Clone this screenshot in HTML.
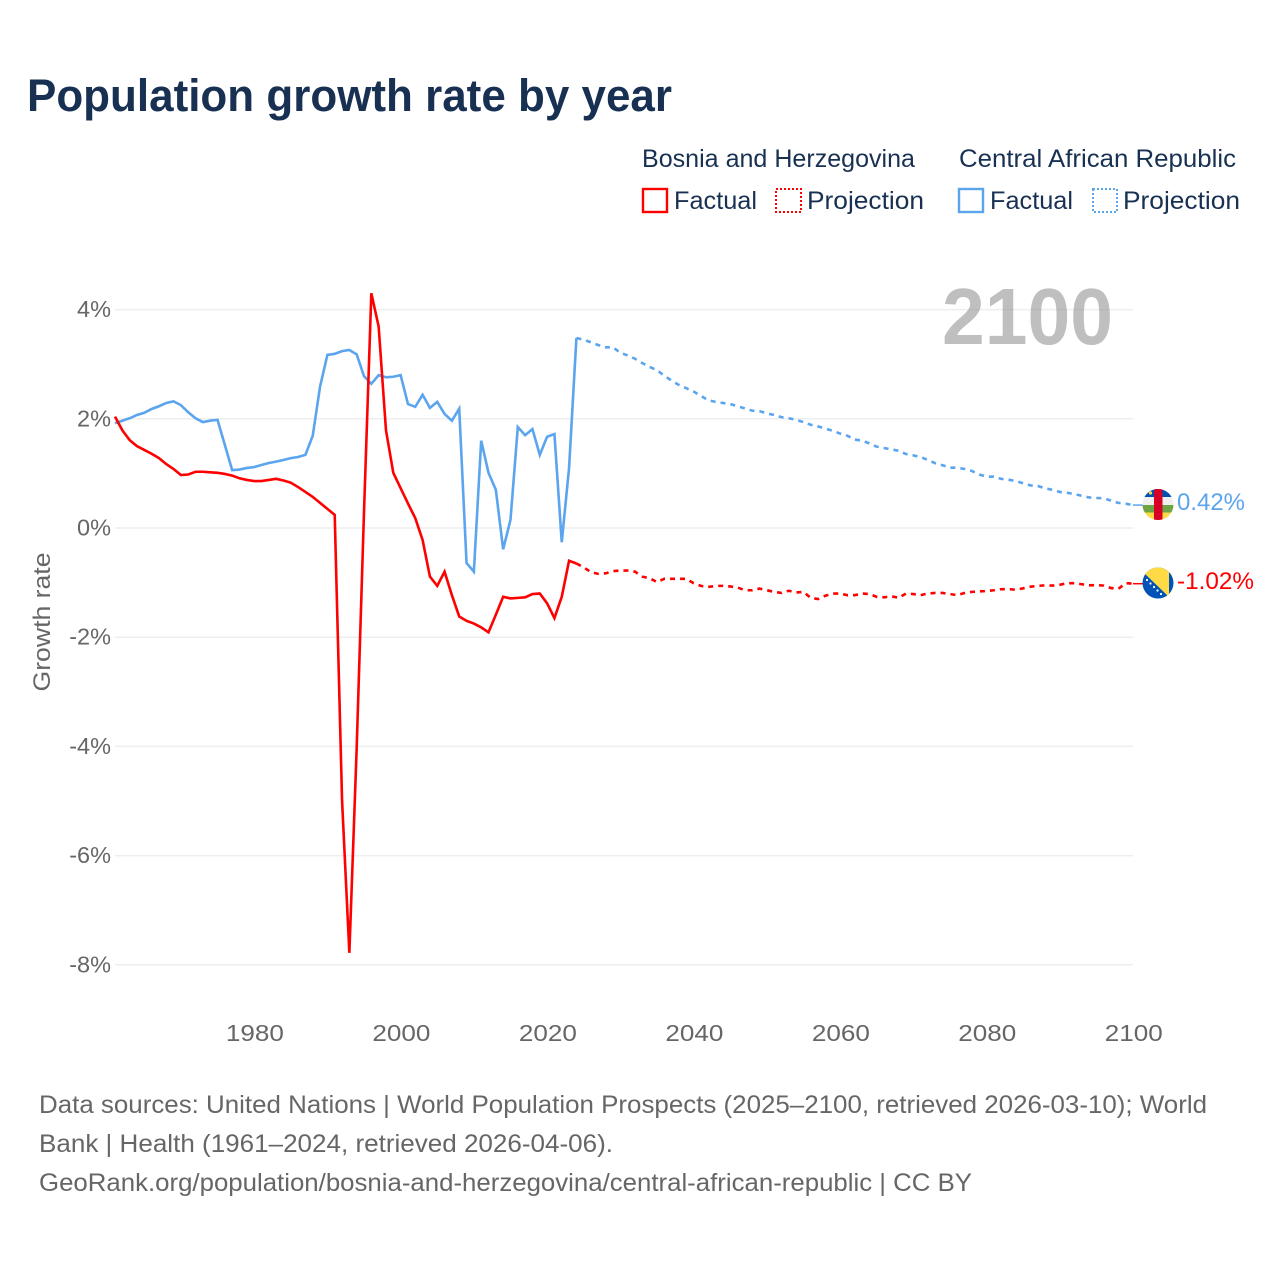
<!DOCTYPE html>
<html lang="en">
<head>
<meta charset="utf-8">
<title>Population growth rate by year</title>
<style>
  html, body { margin: 0; padding: 0; background: #fff; }
  svg { display: block; font-family: "Liberation Sans", sans-serif; }
</style>
</head>
<body>
<svg id="chart" xmlns="http://www.w3.org/2000/svg" width="1280" height="1280" viewBox="0 0 1280 1280">
  <rect width="1280" height="1280" fill="#ffffff"/>
  <text x="27" y="111" font-size="45" font-weight="700" fill="#183152" textLength="645" lengthAdjust="spacingAndGlyphs">Population growth rate by year</text>

  <g font-size="25" fill="#183152">
    <text x="642" y="167" textLength="273" lengthAdjust="spacingAndGlyphs">Bosnia and Herzegovina</text>
    <text x="959" y="167" textLength="277" lengthAdjust="spacingAndGlyphs">Central African Republic</text>
    <rect x="643" y="189" width="24" height="23" fill="none" stroke="#ff0000" stroke-width="2.4"/>
    <text x="674" y="209" textLength="83" lengthAdjust="spacingAndGlyphs">Factual</text>
    <rect x="776" y="189" width="25" height="23" fill="none" stroke="#ff0000" stroke-width="2" stroke-dasharray="2,2"/>
    <text x="807" y="209" textLength="117" lengthAdjust="spacingAndGlyphs">Projection</text>
    <rect x="959" y="189" width="24" height="23" fill="none" stroke="#5ba4ee" stroke-width="2.4"/>
    <text x="990" y="209" textLength="83" lengthAdjust="spacingAndGlyphs">Factual</text>
    <rect x="1093" y="189" width="24" height="23" fill="none" stroke="#5ba4ee" stroke-width="2" stroke-dasharray="2,2"/>
    <text x="1123" y="209" textLength="117" lengthAdjust="spacingAndGlyphs">Projection</text>
  </g>

  <g id="grid"></g>
  <g id="yticks" font-size="23.5" fill="#666666" text-anchor="end"></g>
  <g id="xticks" font-size="23.5" fill="#666666" text-anchor="middle"></g>
  <text transform="translate(50,622) rotate(-90)" text-anchor="middle" font-size="24" fill="#666666" textLength="139" lengthAdjust="spacingAndGlyphs">Growth rate</text>

  <g id="series"></g>

  <text x="942" y="344" font-size="80" font-weight="700" fill="#7f7f7f" fill-opacity="0.5" textLength="171" lengthAdjust="spacingAndGlyphs">2100</text>

  <defs>
    <clipPath id="clip-car"><circle id="clip-car-c" cx="1158" cy="504.5" r="15.5"/></clipPath>
    <clipPath id="clip-bih"><circle id="clip-bih-c" cx="1158" cy="583" r="15.5"/></clipPath>
  </defs>

  <g clip-path="url(#clip-car)">
    <rect x="1142" y="488" width="32" height="9" fill="#0052b4"/>
    <rect x="1142" y="497" width="32" height="8" fill="#f0f0f0"/>
    <rect x="1142" y="505" width="32" height="7.5" fill="#6da544"/>
    <rect x="1142" y="512.5" width="32" height="9" fill="#ffda44"/>
    <rect x="1154" y="488" width="8.5" height="34" fill="#d80027"/>
    <circle cx="1150.5" cy="493" r="1.6" fill="#ffda44"/>
  </g>
  <g clip-path="url(#clip-bih)">
    <rect x="1142" y="567" width="32" height="32" fill="#0052b4"/>
    <polygon points="1144,573 1150,566 1169,566 1169,597" fill="#ffda44"/>
    <g fill="#ffffff">
      <circle cx="1147" cy="580" r="1.1"/>
      <circle cx="1150.5" cy="583.5" r="1.1"/>
      <circle cx="1154" cy="587" r="1.1"/>
      <circle cx="1157.5" cy="590.5" r="1.1"/>
      <circle cx="1161" cy="594" r="1.1"/>
    </g>
  </g>

  <text id="label-car" x="1177" y="510" font-size="24" fill="#5ba4ee" textLength="68" lengthAdjust="spacingAndGlyphs">0.42%</text>
  <text id="label-bih" x="1177" y="589" font-size="24" fill="#ff0000" textLength="77" lengthAdjust="spacingAndGlyphs">-1.02%</text>

  <g font-size="25" fill="#666666">
    <text x="39" y="1113" textLength="1168" lengthAdjust="spacingAndGlyphs">Data sources: United Nations | World Population Prospects (2025–2100, retrieved 2026-03-10); World</text>
    <text x="39" y="1152" textLength="574" lengthAdjust="spacingAndGlyphs">Bank | Health (1961–2024, retrieved 2026-04-06).</text>
    <text x="39" y="1191" textLength="933" lengthAdjust="spacingAndGlyphs">GeoRank.org/population/bosnia-and-herzegovina/central-african-republic | CC BY</text>
  </g>
</svg>

<script>
const factualStartYear = 1961;
const projectionStartYear = 2024;

const yTickValues = [4, 2, 0, -2, -4, -6, -8];
const yTickLabels = ["4%", "2%", "0%", "-2%", "-4%", "-6%", "-8%"];
const xTickValues = [1980, 2000, 2020, 2040, 2060, 2080, 2100];
const xTickLabels = ["1980", "2000", "2020", "2040", "2060", "2080", "2100"];

const bosniaFactual = [
  2.04, 1.79, 1.61, 1.50, 1.43, 1.36, 1.28, 1.17, 1.08, 0.97,
  0.98, 1.03, 1.03, 1.02, 1.01, 0.99, 0.96, 0.91, 0.88, 0.86,
  0.86, 0.88, 0.90, 0.87, 0.83, 0.75, 0.66, 0.57, 0.46, 0.35,
  0.24, -4.98, -7.78, -4.03, 0.30, 4.30, 3.69, 1.79, 1.01, 0.73,
  0.45, 0.18, -0.22, -0.89, -1.06, -0.80, -1.23, -1.62, -1.70, -1.75,
  -1.82, -1.91, -1.59, -1.26, -1.29, -1.28, -1.27, -1.21, -1.20, -1.38,
  -1.65, -1.26, -0.60, -0.65
];

const carFactual = [
  1.92, 1.965, 2.01, 2.07, 2.11, 2.18, 2.23, 2.29, 2.32, 2.25,
  2.12, 2.01, 1.94, 1.965, 1.98, 1.52, 1.06, 1.07, 1.10, 1.115,
  1.155, 1.19, 1.215, 1.245, 1.28, 1.30, 1.34, 1.69, 2.59, 3.17,
  3.19, 3.24, 3.26, 3.18, 2.78, 2.64, 2.80, 2.76, 2.77, 2.80,
  2.27, 2.22, 2.44, 2.20, 2.31, 2.09, 1.965, 2.185, -0.64, -0.80,
  1.60, 1.01, 0.70, -0.39, 0.15, 1.85, 1.70, 1.81, 1.34, 1.67,
  1.72, -0.26, 1.10, 3.48
];

const bosniaProjection = [
  -0.65, -0.72, -0.81, -0.84, -0.83, -0.79, -0.78, -0.78, -0.80, -0.89,
  -0.92, -0.99, -0.93, -0.93, -0.93, -0.93, -1.01, -1.06, -1.08, -1.06,
  -1.06, -1.07, -1.09, -1.14, -1.14, -1.11, -1.14, -1.17, -1.19, -1.15,
  -1.18, -1.17, -1.28, -1.30, -1.24, -1.20, -1.20, -1.23, -1.23, -1.20,
  -1.21, -1.26, -1.27, -1.25, -1.28, -1.20, -1.21, -1.23, -1.20, -1.19,
  -1.19, -1.21, -1.23, -1.19, -1.17, -1.16, -1.155, -1.14, -1.12, -1.12,
  -1.13, -1.105, -1.075, -1.06, -1.05, -1.055, -1.04, -1.01, -1.01, -1.03,
  -1.05, -1.045, -1.055, -1.10, -1.115, -1.01, -1.02
];

const carProjection = [
  3.48, 3.45, 3.40, 3.35, 3.31, 3.31, 3.21, 3.16, 3.10, 3.02,
  2.95, 2.89, 2.79, 2.70, 2.62, 2.56, 2.50, 2.42, 2.34, 2.31,
  2.29, 2.27, 2.23, 2.19, 2.15, 2.14, 2.10, 2.07, 2.03, 2.01,
  1.98, 1.94, 1.89, 1.86, 1.82, 1.78, 1.73, 1.69, 1.62, 1.60,
  1.55, 1.49, 1.465, 1.44, 1.415, 1.355, 1.33, 1.30, 1.245, 1.185,
  1.15, 1.105, 1.105, 1.08, 1.045, 0.98, 0.94, 0.94, 0.90, 0.885,
  0.86, 0.82, 0.78, 0.77, 0.725, 0.70, 0.66, 0.645, 0.62, 0.59,
  0.56, 0.55, 0.545, 0.50, 0.46, 0.445, 0.42
];

const NS = "http://www.w3.org/2000/svg";
const RED = "#ff0000";
const BLUE = "#5ba4ee";

function xScale(year) { return 115 + (year - 1961) * (1133 - 115) / (2100 - 1961); }
function yScale(value) { return 528 - value * 54.6; }

function linePath(values, startYear) {
  return values.map(function (v, i) {
    return (i ? "L" : "M") + xScale(startYear + i).toFixed(2) + " " + yScale(v).toFixed(2);
  }).join(" ");
}

const gridGroup = document.getElementById("grid");
const yTickGroup = document.getElementById("yticks");
yTickValues.forEach(function (value, i) {
  const line = document.createElementNS(NS, "line");
  
  
  line.setAttribute("x1", 115);
  line.setAttribute("x2", 1133);
  line.setAttribute("y1", yScale(value));
  line.setAttribute("y2", yScale(value));
  line.setAttribute("stroke", "#eeeeee");
  line.setAttribute("stroke-width", "1.5");
  gridGroup.appendChild(line);

  const label = document.createElementNS(NS, "text");
  
  
  label.setAttribute("x", 111);
  label.setAttribute("y", yScale(value) + 7.5);
  label.textContent = yTickLabels[i];
  yTickGroup.appendChild(label);
});

const xTickGroup = document.getElementById("xticks");
xTickValues.forEach(function (value, i) {
  const label = document.createElementNS(NS, "text");
  
  
  label.setAttribute("x", xScale(value) + 0.8);
  label.setAttribute("y", 1041);
  label.setAttribute("textLength", "58");
  label.setAttribute("lengthAdjust", "spacingAndGlyphs");
  label.textContent = xTickLabels[i];
  xTickGroup.appendChild(label);
});

const seriesGroup = document.getElementById("series");

const carProjectionPath = document.createElementNS(NS, "path");


carProjectionPath.setAttribute("d", linePath(carProjection, projectionStartYear));
carProjectionPath.setAttribute("fill", "none");
carProjectionPath.setAttribute("stroke", BLUE);
carProjectionPath.setAttribute("stroke-width", "2.6");
carProjectionPath.setAttribute("stroke-dasharray", "5,5");
seriesGroup.appendChild(carProjectionPath);

const bosniaProjectionPath = document.createElementNS(NS, "path");


bosniaProjectionPath.setAttribute("d", linePath(bosniaProjection, projectionStartYear));
bosniaProjectionPath.setAttribute("fill", "none");
bosniaProjectionPath.setAttribute("stroke", RED);
bosniaProjectionPath.setAttribute("stroke-width", "2.6");
bosniaProjectionPath.setAttribute("stroke-dasharray", "5,5");
seriesGroup.appendChild(bosniaProjectionPath);

const carFactualPath = document.createElementNS(NS, "path");


carFactualPath.setAttribute("d", linePath(carFactual, factualStartYear));
carFactualPath.setAttribute("fill", "none");
carFactualPath.setAttribute("stroke", BLUE);
carFactualPath.setAttribute("stroke-width", "2.6");
seriesGroup.appendChild(carFactualPath);

const bosniaFactualPath = document.createElementNS(NS, "path");


bosniaFactualPath.setAttribute("d", linePath(bosniaFactual, factualStartYear));
bosniaFactualPath.setAttribute("fill", "none");
bosniaFactualPath.setAttribute("stroke", RED);
bosniaFactualPath.setAttribute("stroke-width", "2.6");
seriesGroup.appendChild(bosniaFactualPath);

const carEndY = yScale(carProjection[carProjection.length - 1]);
const carConnector = document.createElementNS(NS, "line");


carConnector.setAttribute("x1", xScale(2100));
carConnector.setAttribute("x2", 1144);
carConnector.setAttribute("y1", carEndY);
carConnector.setAttribute("y2", carEndY);
carConnector.setAttribute("stroke", BLUE);
carConnector.setAttribute("stroke-width", "1.5");
seriesGroup.appendChild(carConnector);

const bosniaEndY = yScale(bosniaProjection[bosniaProjection.length - 1]);
const bosniaConnector = document.createElementNS(NS, "line");


bosniaConnector.setAttribute("x1", xScale(2100));
bosniaConnector.setAttribute("x2", 1144);
bosniaConnector.setAttribute("y1", bosniaEndY);
bosniaConnector.setAttribute("y2", bosniaEndY);
bosniaConnector.setAttribute("stroke", RED);
bosniaConnector.setAttribute("stroke-width", "1.5");
seriesGroup.appendChild(bosniaConnector);
</script>
</body>
</html>
